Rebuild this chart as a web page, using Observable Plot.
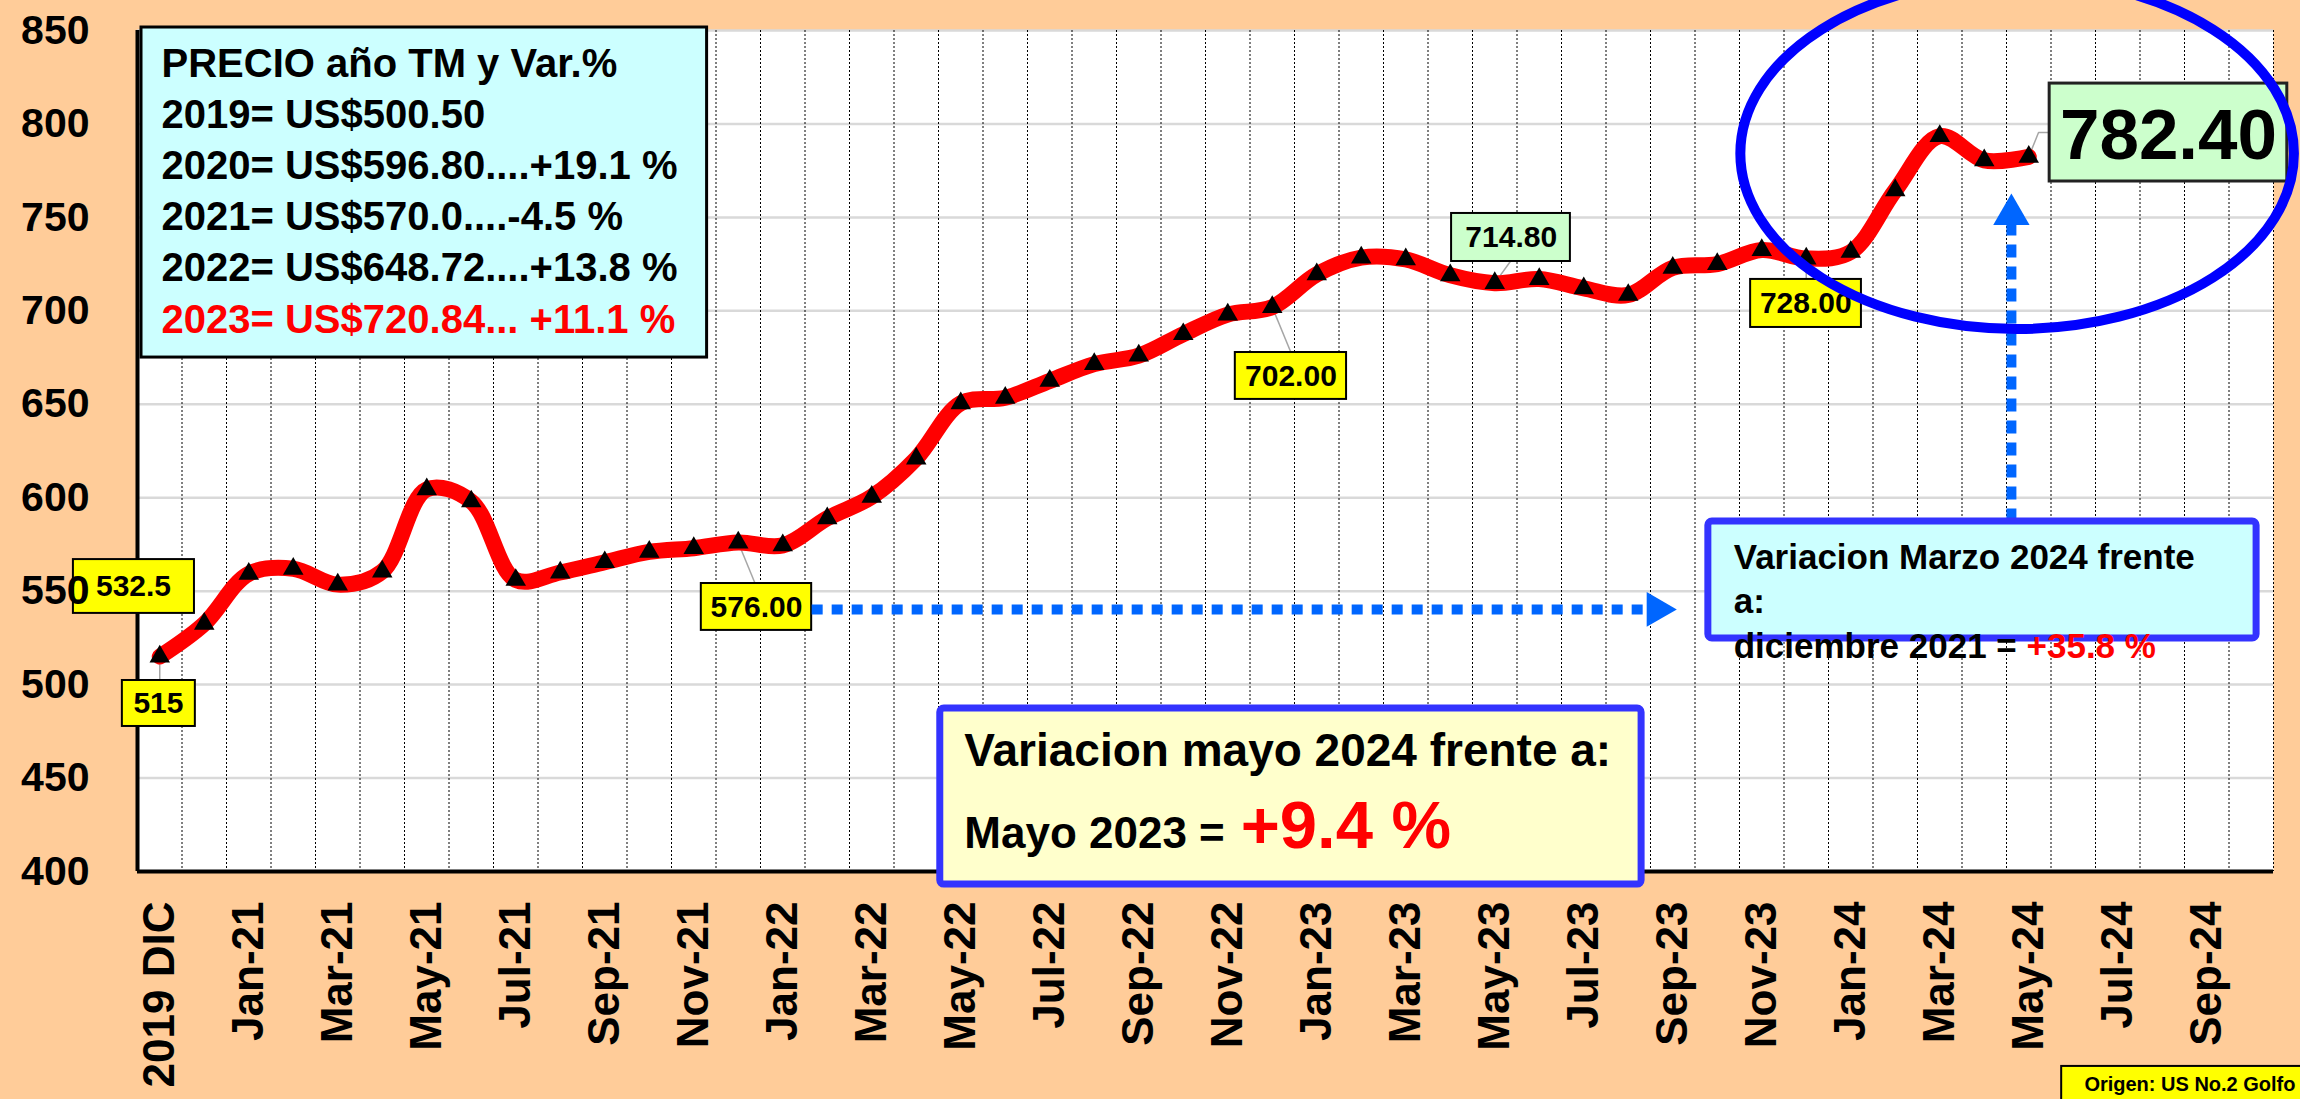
<!DOCTYPE html>
<html>
<head>
<meta charset="utf-8">
<script src="https://cdn.jsdelivr.net/npm/d3@7"></script>
<script src="https://cdn.jsdelivr.net/npm/@observablehq/plot@0.6"></script>
<style>
  html, body { margin: 0; padding: 0; background: #FFCC99; }
  #chart { width: 2300px; height: 1099px; overflow: hidden; }
</style>
</head>
<body>
<div id="chart"></div>
<script>
// ---------------- DATA ----------------
const monthLabels = [
  "2019 DIC","2020 DIC",
  "Jan-21","Feb-21","Mar-21","Apr-21","May-21","Jun-21","Jul-21","Aug-21","Sep-21","Oct-21","Nov-21","Dec-21",
  "Jan-22","Feb-22","Mar-22","Apr-22","May-22","Jun-22","Jul-22","Aug-22","Sep-22","Oct-22","Nov-22","Dec-22",
  "Jan-23","Feb-23","Mar-23","Apr-23","May-23","Jun-23","Jul-23","Aug-23","Sep-23","Oct-23","Nov-23","Dec-23",
  "Jan-24","Feb-24","Mar-24","Apr-24","May-24","Jun-24","Jul-24","Aug-24","Sep-24","Oct-24"
];
const prices = [
  515, 532.5,
  559.3, 562, 553.5, 560.5, 604.5, 598, 556, 560, 565.5, 571, 573, 576,
  574.5, 589, 600.5, 621, 650.5, 653.5, 662.5, 671.5, 676, 687.5, 698, 702,
  719.5, 728.5, 727.5, 719, 714.8, 717, 712, 708.5, 723, 725, 732.5, 728,
  731.5, 764.5, 793.5, 780.5, 782.4
];
const yTicks = [400, 450, 500, 550, 600, 650, 700, 750, 800, 850];

const summaryLines = [
  "PRECIO año TM y Var.%",
  "2019= US$500.50",
  "2020= US$596.80....+19.1 %",
  "2021= US$570.0....-4.5 %",
  "2022= US$648.72....+13.8 %"
];
const summaryRedLine = "2023= US$720.84... +11.1 %";

const pointLabelIdx  = [0, 1, 13, 25, 30, 37];
const pointLabelText = ["515", "532.5", "576.00", "702.00", "714.80", "728.00"];
const lastLabelText = "782.40";

const marzoLines = ["Variacion Marzo 2024 frente", "a:"];
const marzoLast = "diciembre 2021 = ";
const marzoPct = "+35.8 %";
const mayoLine1 = "Variacion mayo 2024 frente a:";
const mayoLine2 = "Mayo 2023 = ";
const mayoPct = "+9.4 %";
const sourceText = "Origen: US No.2 Golfo";

// ---------------- LAYOUT (data units: x = month index, y = US$) ----------------
const FONT = "'Liberation Sans', Arial, Helvetica, sans-serif";
const data = prices.map((v, i) => ({i, label: monthLabels[i], v}));
const xTickIdx = monthLabels.map((_, i) => i).filter(i => i % 2 === 0);
const boundaries = monthLabels.map((_, i) => i + 0.5);

const summaryBox = {x1: -0.41, x2: 12.3, y1: 851.6, y2: 675.0};
const summaryX = 0.04;
const summaryBaselines = [824.9, 797.6, 770.8, 743.0, 716.2, 688.4];

const labelBoxes = [
  {x1: -0.84, x2: 0.80,  y1: 502.2, y2: 477.6, cx: -0.03, cy: 489.9, fill: "#FFFF00"},
  {x1: -1.94, x2: 0.78,  y1: 566.9, y2: 538.1, cx: -0.59, cy: 552.5, fill: "#FFFF00"},
  {x1: 12.17, x2: 14.65, y1: 554.1, y2: 529.0, cx: 13.41, cy: 541.5, fill: "#FFFF00"},
  {x1: 24.17, x2: 26.67, y1: 677.7, y2: 652.6, cx: 25.42, cy: 665.1, fill: "#FFFF00"},
  {x1: 29.03, x2: 31.70, y1: 752.1, y2: 726.4, cx: 30.37, cy: 739.2, fill: "#CCFFCC"},
  {x1: 35.75, x2: 38.24, y1: 716.8, y2: 691.1, cx: 36.99, cy: 703.9, fill: "#FFFF00"}
].map((b, k) => ({...b, text: pointLabelText[k], idx: pointLabelIdx[k]}));

const leaderEnds = [
  {k: 0, x2: 0.0,   y2: 502.2},
  {k: 2, x2: 13.37, y2: 554.6},
  {k: 3, x2: 25.42, y2: 677.7},
  {k: 4, x2: 30.35, y2: 726.4},
  {k: 5, x2: 37.0,  y2: 716.8}
].map(d => ({x1: pointLabelIdx[d.k], y1: prices[pointLabelIdx[d.k]], x2: d.x2, y2: d.y2}));

const lastIdx = prices.length - 1;
const lastLeader = [
  {x: lastIdx, y: prices[lastIdx]}, {x: 42.22, y: 795.4}, {x: 42.47, y: 795.4}
];
const lastBox = {x1: 42.47, x2: 47.81, y1: 821.6, y2: 769.2, cx: 45.14, base: 781.5};

const mayoBox = {x1: 17.54, x2: 33.30, y1: 487.2, y2: 393.0};
const mayoTextX = 18.08, mayoBase1 = 456.7, mayoBase2 = 412.8, mayoPctX = 24.29;

const marzoBox = {x1: 34.80, x2: 47.12, y1: 587.3, y2: 524.7};
const marzoTextX = 35.37, marzoBases = [562.1, 538.1, 514.5], marzoPctX = 41.95;

const sourceBox = {x1: 42.74, x2: 48.2, y1: 295.7, y2: 277.0, tx: 43.25, ty: 286.2};

const hArrow = {x1: 14.65, x2: 33.45, y: 540.2, head: 33.64};
const vArrow = {x: 41.61, y1: 587.3, y2: 746.2, head: 751.5};

const ellipse = {cx: 41.75, cy: 783.9, rx: 6.22, ry: 93.9};

const BLUE = "#0066FF";

// ---------------- PLOT ----------------
const chart = Plot.plot({
  width: 2300,
  height: 1099,
  marginLeft: 137,
  marginRight: 27,
  marginTop: 30,
  marginBottom: 228,
  style: {background: "#FFCC99", fontFamily: FONT, color: "black"},
  x: {type: "linear", domain: [-0.5, 47.5]},
  y: {type: "linear", domain: [400, 850]},
  marks: [
    Plot.frame({fill: "white", stroke: "none"}),
    Plot.ruleY(yTicks.filter(v => v > 400), {stroke: "#D9D9D9", strokeWidth: 2.5}),
    Plot.ruleX(boundaries, {stroke: "black", strokeWidth: 1, strokeDasharray: "2,2"}),
    Plot.ruleX([-0.5], {stroke: "black", strokeWidth: 4}),
    Plot.ruleY([400], {stroke: "black", strokeWidth: 4}),

    // leader lines
    Plot.link(leaderEnds, {x1: "x1", y1: "y1", x2: "x2", y2: "y2", stroke: "#A6A6A6", strokeWidth: 1.5}),
    Plot.line(lastLeader, {x: "x", y: "y", stroke: "#A6A6A6", strokeWidth: 1.5}),

    // series
    Plot.line(data, {x: "i", y: "v", stroke: "#FF0000", strokeWidth: 16, curve: "catmull-rom"}),
    Plot.dot(data, {x: "i", y: "v", symbol: "triangle", r: 7.6, fill: "black", stroke: "none"}),

    // point labels
    Plot.rect(labelBoxes, {x1: "x1", x2: "x2", y1: "y1", y2: "y2", fill: "fill", stroke: "black", strokeWidth: 2}),
    Plot.text(labelBoxes, {x: "cx", y: "cy", text: "text", fontSize: 30, fontWeight: "bold", fontFamily: FONT, fill: "black", lineAnchor: "middle"}),

    // last value label
    Plot.rect([lastBox], {x1: "x1", x2: "x2", y1: "y1", y2: "y2", fill: "#CCFFCC", stroke: "#222", strokeWidth: 3}),
    Plot.text([lastBox], {x: "cx", y: "base", text: () => lastLabelText, fontSize: 71, fontWeight: "bold", fontFamily: FONT, fill: "black", lineAnchor: "bottom"}),

    // summary box
    Plot.rect([summaryBox], {x1: "x1", x2: "x2", y1: "y1", y2: "y2", fill: "#CCFFFF", stroke: "black", strokeWidth: 3}),
    Plot.text(summaryLines, {x: () => summaryX, y: (d, i) => summaryBaselines[i], text: d => d, textAnchor: "start", lineAnchor: "bottom", fontSize: 40, fontWeight: "bold", fontFamily: FONT, fill: "black"}),
    Plot.text([summaryRedLine], {x: () => summaryX, y: () => summaryBaselines[5], text: d => d, textAnchor: "start", lineAnchor: "bottom", fontSize: 40, fontWeight: "bold", fontFamily: FONT, fill: "#FF0000"}),

    // arrows
    Plot.link([hArrow], {x1: "x1", x2: "x2", y1: "y", y2: "y", stroke: BLUE, strokeWidth: 10, strokeDasharray: "11,9"}),
    Plot.dot([hArrow], {x: "head", y: "y", symbol: "triangle", r: 12.9, rotate: 90, fill: BLUE, stroke: "none"}),
    Plot.link([vArrow], {x1: "x", x2: "x", y1: "y1", y2: "y2", stroke: BLUE, strokeWidth: 10, strokeDasharray: "13,9"}),
    Plot.dot([vArrow], {x: "x", y: "head", symbol: "triangle", r: 13.5, fill: BLUE, stroke: "none"}),

    // Variacion Marzo box
    Plot.rect([marzoBox], {x1: "x1", x2: "x2", y1: "y1", y2: "y2", fill: "#CCFFFF", stroke: "#3333FF", strokeWidth: 7, rx: 4}),
    Plot.text(marzoLines, {x: () => marzoTextX, y: (d, i) => marzoBases[i], text: d => d, textAnchor: "start", lineAnchor: "bottom", fontSize: 35, fontWeight: "bold", fontFamily: FONT, fill: "black"}),
    Plot.text([marzoLast], {x: () => marzoTextX, y: () => marzoBases[2], text: d => d, textAnchor: "start", lineAnchor: "bottom", fontSize: 35, fontWeight: "bold", fontFamily: FONT, fill: "black"}),
    Plot.text([marzoPct], {x: () => marzoPctX, y: () => marzoBases[2], text: d => d, textAnchor: "start", lineAnchor: "bottom", fontSize: 35, fontWeight: "bold", fontFamily: FONT, fill: "#FF0000"}),

    // Variacion mayo box
    Plot.rect([mayoBox], {x1: "x1", x2: "x2", y1: "y1", y2: "y2", fill: "#FFFFCC", stroke: "#3333FF", strokeWidth: 7, rx: 4}),
    Plot.text([mayoLine1], {x: () => mayoTextX, y: () => mayoBase1, text: d => d, textAnchor: "start", lineAnchor: "bottom", fontSize: 46, fontWeight: "bold", fontFamily: FONT, fill: "black"}),
    Plot.text([mayoLine2], {x: () => mayoTextX, y: () => mayoBase2, text: d => d, textAnchor: "start", lineAnchor: "bottom", fontSize: 44, fontWeight: "bold", fontFamily: FONT, fill: "black"}),
    Plot.text([mayoPct], {x: () => mayoPctX, y: () => mayoBase2, text: d => d, textAnchor: "start", lineAnchor: "bottom", fontSize: 67, fontWeight: "bold", fontFamily: FONT, fill: "#FF0000"}),

    // source
    Plot.rect([sourceBox], {x1: "x1", x2: "x2", y1: "y1", y2: "y2", fill: "#FFFF00", stroke: "black", strokeWidth: 2}),
    Plot.text([sourceText], {x: () => sourceBox.tx, y: () => sourceBox.ty, text: d => d, textAnchor: "start", lineAnchor: "middle", fontSize: 20, fontWeight: "bold", fontFamily: FONT, fill: "black"}),

    // axes
    Plot.axisY({ticks: yTicks, tickSize: 0, tickPadding: 48, fontSize: 41, fontWeight: "bold", fontFamily: FONT, fill: "black", label: null}),
    Plot.axisX({ticks: xTickIdx, tickFormat: i => monthLabels[i], tickRotate: -90, tickSize: 0, tickPadding: 30, fontSize: 44, fontWeight: "bold", fontFamily: FONT, fill: "black", label: null})
  ]
});

// highlight ellipse, positioned through the plot's own scales
const sx = chart.scale("x"), sy = chart.scale("y");
d3.select(chart).append("ellipse")
  .attr("cx", sx.apply(ellipse.cx))
  .attr("cy", sy.apply(ellipse.cy))
  .attr("rx", sx.apply(ellipse.cx + ellipse.rx) - sx.apply(ellipse.cx))
  .attr("ry", sy.apply(ellipse.cy - ellipse.ry) - sy.apply(ellipse.cy))
  .attr("fill", "none")
  .attr("stroke", "#0000FF")
  .attr("stroke-width", 10);

document.getElementById("chart").appendChild(chart);
</script>
</body>
</html>
